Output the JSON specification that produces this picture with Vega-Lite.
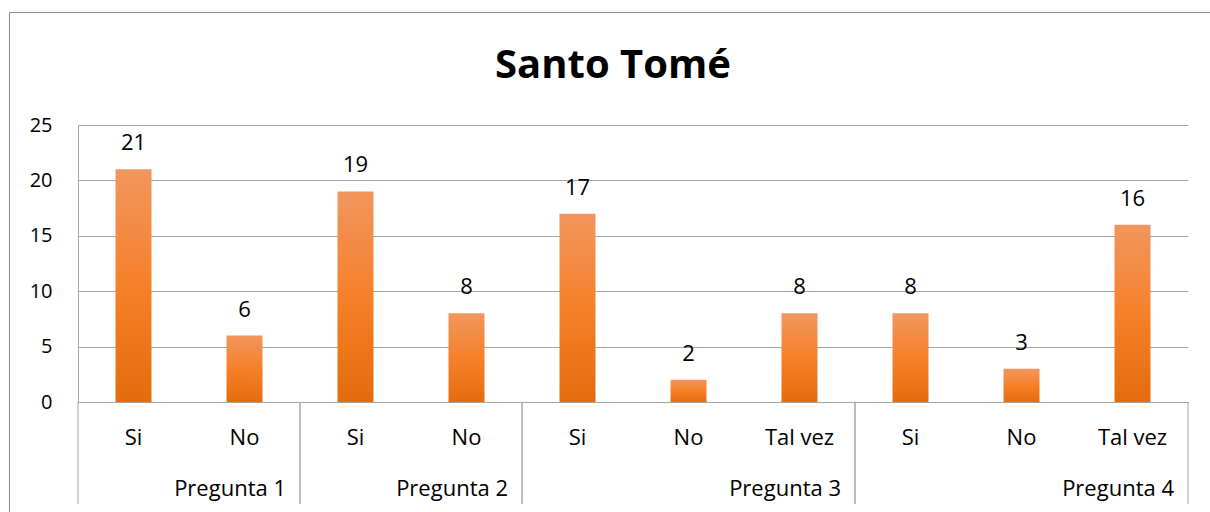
{
  "$schema": "https://vega.github.io/schema/vega-lite/v6.json",
  "width": 1110,
  "height": 277,
  "autosize": {"type": "none"},
  "padding": {"left": 78, "top": 125, "right": 22, "bottom": 110},
  "background": "white",
  "title": {"text": "Santo Tomé", "font": "Open Sans", "fontSize": 40, "fontWeight": "bold", "color": "black", "anchor": "middle", "dx": -20, "offset": -114, "baseline": "bottom"},
  "config": {"view": {"stroke": null}, "font": "Open Sans"},
  "datasets": {
    "respuestas": [
      {"pregunta": "Pregunta 1", "respuesta": "Si", "clave": "Pregunta 1|Si", "valor": 21},
      {"pregunta": "Pregunta 1", "respuesta": "No", "clave": "Pregunta 1|No", "valor": 6},
      {"pregunta": "Pregunta 2", "respuesta": "Si", "clave": "Pregunta 2|Si", "valor": 19},
      {"pregunta": "Pregunta 2", "respuesta": "No", "clave": "Pregunta 2|No", "valor": 8},
      {"pregunta": "Pregunta 3", "respuesta": "Si", "clave": "Pregunta 3|Si", "valor": 17},
      {"pregunta": "Pregunta 3", "respuesta": "No", "clave": "Pregunta 3|No", "valor": 2},
      {"pregunta": "Pregunta 3", "respuesta": "Tal vez", "clave": "Pregunta 3|Tal vez", "valor": 8},
      {"pregunta": "Pregunta 4", "respuesta": "Si", "clave": "Pregunta 4|Si", "valor": 8},
      {"pregunta": "Pregunta 4", "respuesta": "No", "clave": "Pregunta 4|No", "valor": 3},
      {"pregunta": "Pregunta 4", "respuesta": "Tal vez", "clave": "Pregunta 4|Tal vez", "valor": 16}
    ],
    "grupos": [
      {"pregunta": "Pregunta 1", "primera": "Pregunta 1|Si", "ultima": "Pregunta 1|No"},
      {"pregunta": "Pregunta 2", "primera": "Pregunta 2|Si", "ultima": "Pregunta 2|No"},
      {"pregunta": "Pregunta 3", "primera": "Pregunta 3|Si", "ultima": "Pregunta 3|Tal vez"},
      {"pregunta": "Pregunta 4", "primera": "Pregunta 4|Si", "ultima": "Pregunta 4|Tal vez"}
    ]
  },
  "layer": [
    {
      "data": {"values": [{}]},
      "mark": {"type": "rect", "fill": null, "stroke": "#8C8C8C", "strokeWidth": 1},
      "encoding": {
        "x": {"value": -68.5},
        "x2": {"value": 1160},
        "y": {"value": -112.5},
        "y2": {"value": 500}
      }
    },
    {
      "data": {"name": "respuestas"},
      "mark": {
        "type": "bar",
        "width": 36,
        "color": {
          "gradient": "linear", "x1": 0, "y1": 0, "x2": 0, "y2": 1,
          "stops": [
            {"offset": 0, "color": "#F2965E"},
            {"offset": 0.5, "color": "#F6802A"},
            {"offset": 1, "color": "#E46C0E"}
          ]
        }
      },
      "encoding": {
        "x": {
          "field": "clave", "type": "nominal", "sort": null,
          "scale": {
            "domain": ["Pregunta 1|Si", "Pregunta 1|No", "Pregunta 2|Si", "Pregunta 2|No", "Pregunta 3|Si", "Pregunta 3|No", "Pregunta 3|Tal vez", "Pregunta 4|Si", "Pregunta 4|No", "Pregunta 4|Tal vez"],
            "paddingInner": 0, "paddingOuter": 0
          },
          "axis": {
            "title": null,
            "labelExpr": "split(datum.value, '|')[1]",
            "labelFontSize": 22, "labelColor": "black", "labelAngle": 0,
            "ticks": false, "tickSize": 0, "labelPadding": 42, "labelBaseline": "alphabetic",
            "domainColor": "#A6A6A6", "grid": false
          }
        },
        "y": {
          "field": "valor", "type": "quantitative",
          "scale": {"domain": [0, 25], "nice": false},
          "axis": {
            "title": null, "values": [0, 5, 10, 15, 20, 25],
            "ticks": false, "labelPadding": 26, "labelFontSize": 20, "labelColor": "black",
            "domainColor": "#A6A6A6", "gridColor": "#A6A6A6", "grid": true
          }
        }
      }
    },
    {
      "data": {"name": "respuestas"},
      "mark": {"type": "text", "dy": -19, "baseline": "alphabetic", "fontSize": 22, "color": "black"},
      "encoding": {
        "x": {"field": "clave", "type": "nominal", "sort": null},
        "y": {"field": "valor", "type": "quantitative"},
        "text": {"field": "valor", "type": "quantitative"}
      }
    },
    {
      "data": {"name": "grupos"},
      "mark": {"type": "rule", "color": "#A6A6A6", "strokeWidth": 1},
      "encoding": {
        "x": {"field": "primera", "type": "nominal", "bandPosition": 0},
        "y": {"datum": 0},
        "y2": {"datum": -9.2}
      }
    },
    {
      "data": {"name": "grupos"},
      "mark": {"type": "rule", "color": "#A6A6A6", "strokeWidth": 1},
      "encoding": {
        "x": {"field": "ultima", "type": "nominal", "bandPosition": 1},
        "y": {"datum": 0},
        "y2": {"datum": -9.2}
      }
    },
    {
      "data": {"name": "grupos"},
      "mark": {"type": "text", "align": "right", "dx": -14, "baseline": "alphabetic", "fontSize": 22, "color": "black"},
      "encoding": {
        "x": {"field": "ultima", "type": "nominal", "bandPosition": 1},
        "y": {"datum": -8.48},
        "text": {"field": "pregunta", "type": "nominal"}
      }
    }
  ]
}
